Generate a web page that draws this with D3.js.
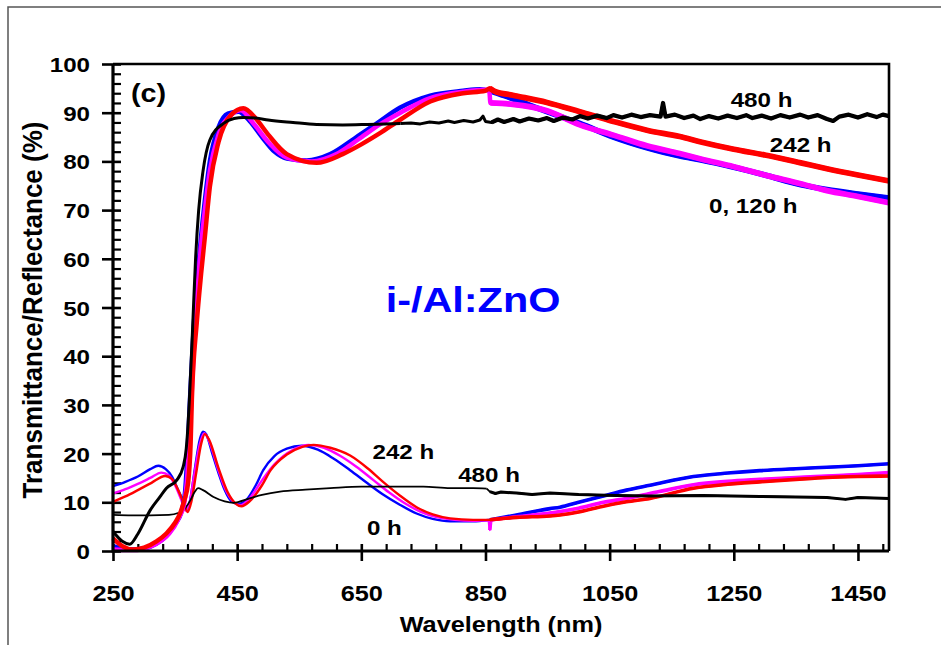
<!DOCTYPE html>
<html>
<head>
<meta charset="utf-8">
<script src="https://cdn.jsdelivr.net/npm/d3@7"></script>
<style>
  body { margin: 0; background: #fff; }
  svg text { font-family: "Liberation Sans", Arial, sans-serif; font-weight: bold; fill: #000; }
</style>
</head>
<body>
<div id="chart"></div>
<script>
// transmittance (upper, thick) and reflectance (lower, thin) spectra, [nm, %]
const tBlue = [[250,1.0],[265,0.5],[280,0.3],[300,0.5],[320,1.5],[335,3.0],[350,5.5],[360,8],[366,12],[370,20],[374,31],[380,46],[390,62],[398,72],[406,80],[420,87],[435,89.8],[452,90.2],[470,88.3],[490,85],[510,82],[530,80.6],[562,80.2],[600,81.5],[640,84.8],[675,87.8],[712,91.0],[761,93.5],[814,94.5],[841,94.8],[857,94.5],[880,93.5],[920,91.6],[960,89.7],[1002,87.8],[1056,85.0],[1110,82.8],[1163,81.1],[1197,80.3],[1250,78.8],[1300,77.2],[1358,75.2],[1400,74.2],[1450,73.3],[1500,72.5]];
const tMagenta = [[250,0.3],[265,0.2],[285,0.2],[305,0.7],[320,1.5],[340,3.5],[355,6.5],[365,10],[370,16],[375,28],[381,43],[390,60],[398,70],[406,78],[420,85.5],[440,89.5],[456,90.5],[475,88],[500,84],[530,80.8],[570,80.0],[610,81.5],[645,84.5],[680,87.6],[713,90.0],[761,93.0],[814,94.3],[850,94.7],[856,94.6],[858,92.0],[894,91.7],[949,90.4],[1002,87.5],[1056,85.4],[1110,83.2],[1163,81.6],[1197,80.5],[1250,78.9],[1300,77.2],[1358,75.4],[1400,74.0],[1450,72.8],[1500,71.5]];
const tRed = [[250,2.6],[265,1.0],[283,0.3],[300,0.7],[320,2.0],[336,3.6],[350,5.8],[358,7.7],[365,10.5],[371,14],[375,22],[377,31],[385,47],[392,57],[398,64.5],[406,74.8],[420,84],[440,89.5],[460,90.9],[480,88.8],[500,85.5],[530,81.5],[578,79.7],[620,81.5],[650,83.5],[680,85.8],[712,88.5],[761,92.3],[814,94.0],[850,94.5],[857,95.0],[865,94.4],[894,93.6],[949,92.1],[1002,90.2],[1056,88.2],[1110,86.4],[1163,85.1],[1197,84.0],[1250,82.5],[1300,81.3],[1358,79.7],[1400,78.5],[1450,77.2],[1500,76.0]];
const tBlack = [[250,4.0],[265,2.0],[277,1.4],[290,3.5],[310,8.4],[325,11],[336,12.9],[353,14.6],[363,17.3],[368,21],[370,24.2],[373,31],[378,45],[383,60],[388,70],[395,78],[406,84.4],[428,87.8],[445,88.8],[460,89.0],[480,88.9],[500,88.5],[540,88.0],[578,87.6],[620,87.5],[660,87.6],[713,87.8],[730,87.9],[745,87.7],[760,88.1],[775,87.9],[790,88.3],[800,88.0],[815,88.4],[830,88.1],[841,88.5],[846,89.3],[850,88.2],[860,88.0],[870,88.6],[880,88.1],[895,88.7],[905,88.2],[920,88.8],[935,88.4],[949,88.9],[960,88.3],[975,89.0],[990,88.6],[1002,89.3],[1015,88.8],[1030,89.4],[1045,88.9],[1056,89.5],[1070,89.0],[1085,89.6],[1100,89.1],[1115,89.5],[1132,89.2],[1136,92.0],[1140,89.2],[1155,89.6],[1170,88.9],[1185,89.4],[1196,88.7],[1210,89.3],[1225,88.8],[1240,89.4],[1255,88.9],[1270,89.5],[1280,88.9],[1295,89.4],[1310,88.8],[1325,89.5],[1340,89.0],[1357,89.6],[1370,89.0],[1385,89.5],[1400,88.7],[1410,88.3],[1420,89.2],[1435,89.6],[1450,89.0],[1465,89.7],[1480,89.1],[1490,89.6],[1500,89.3]];

const rBlue = [[250,13.3],[270,14.2],[290,15.3],[310,16.8],[323,17.5],[335,16.8],[345,15.3],[355,12.5],[362,10.5],[367,8.8],[370,8.4],[375,11],[382,17],[390,23],[395,24.5],[400,24],[410,20],[420,16],[430,12.5],[440,10.3],[452,9.65],[465,10.5],[480,13.5],[492,16.6],[510,19.5],[530,21],[554,21.6],[580,20.8],[605,19.0],[632,16.6],[660,13.9],[685,11.6],[712,9.5],[739,7.7],[765,6.6],[793,6.1],[830,6.1],[857,6.4],[900,7.4],[954,8.7],[970,9.0],[1000,10.0],[1040,11.3],[1077,12.5],[1115,13.5],[1185,15.3],[1240,16.0],[1292,16.5],[1350,16.9],[1400,17.2],[1450,17.5],[1500,17.9]];
const rMagenta = [[250,11.8],[270,12.7],[290,13.8],[310,15.0],[328,16.1],[340,15.5],[350,13.5],[360,10.5],[367,8.3],[372,9],[380,15],[390,22],[397,24.2],[405,22.5],[420,16.5],[430,13],[445,10],[455,9.4],[470,10.8],[490,14.5],[510,17.8],[540,20.8],[565,21.8],[590,21.2],[615,19.6],[642,17.3],[670,14.5],[695,12.0],[720,9.8],[745,8.1],[770,7.0],[800,6.4],[830,6.2],[855,6.3],[857,4.3],[859,6.3],[900,7.0],[954,7.8],[970,8.1],[1000,8.8],[1040,10.0],[1077,10.8],[1130,12.2],[1185,13.6],[1240,14.3],[1292,14.7],[1350,15.1],[1400,15.4],[1450,15.7],[1500,16.1]];
const rRed = [[250,10.1],[270,11.2],[290,12.5],[312,14.0],[334,15.4],[345,14.8],[355,12.5],[365,9.5],[370,8.0],[376,10],[384,16],[392,22],[398,24.0],[405,22.8],[420,17],[435,12],[447,9.8],[457,9.2],[470,10.2],[490,13.5],[504,16.6],[530,19.8],[555,21.4],[573,21.8],[600,21.2],[632,19.6],[660,17.0],[685,14.2],[712,11.4],[739,9.0],[765,7.5],[793,6.7],[830,6.4],[857,6.4],[900,6.9],[954,7.2],[970,7.4],[1000,8.0],[1040,9.2],[1077,10.1],[1115,10.8],[1185,12.9],[1240,13.7],[1292,14.2],[1350,14.7],[1400,15.1],[1450,15.3],[1500,15.4]];
const rBlack = [[250,7.4],[280,7.3],[310,7.3],[340,7.4],[355,7.8],[365,8.6],[375,10.5],[382,12.2],[387,12.9],[395,12.5],[412,11.1],[430,10.2],[444,9.9],[470,10.8],[490,11.5],[519,12.2],[560,12.6],[600,12.9],[650,13.2],[700,13.2],[750,13.2],[793,12.9],[830,12.9],[852,12.8],[857,12.2],[866,11.8],[875,12.1],[900,11.9],[925,11.6],[954,11.9],[1000,11.6],[1060,11.4],[1115,11.3],[1200,11.4],[1292,11.2],[1350,11.1],[1400,11.0],[1430,10.6],[1450,11.0],[1500,10.8]];

const xTicks = [250, 450, 650, 850, 1050, 1250, 1450];
const yTicks = [0, 10, 20, 30, 40, 50, 60, 70, 80, 90, 100];

// curve labels, anchored at their left baseline in data units
const notes = [
  { text: "480 h", nm: 1245, v: 91.2 },
  { text: "242 h", nm: 1308, v: 81.9 },
  { text: "0, 120 h", nm: 1210, v: 69.4 },
  { text: "242 h", nm: 668, v: 18.8 },
  { text: "480 h", nm: 806, v: 14.2 },
  { text: "0 h", nm: 659, v: 3.3 }
];

const W = 941, H = 645;
const SX = 1.15; // glyphs in the source are a bit wide

const svg = d3.select("#chart").append("svg").attr("width", W).attr("height", H);
svg.append("rect").attr("width", W).attr("height", H).attr("fill", "#fff");

// outer figure frame (runs off the right and bottom)
svg.append("rect")
  .attr("x", 8).attr("y", 7).attr("width", 1200).attr("height", 1200)
  .attr("fill", "none").attr("stroke", "#555").attr("stroke-width", 1.5);

const x = d3.scaleLinear().domain([250, 1500]).range([113, 889]);
const y = d3.scaleLinear().domain([0, 100]).range([551, 64]);

function label(g, px, py, str, size, anchor, color) {
  return g.append("text")
    .attr("transform", `translate(${px},${py}) scale(${SX},1)`)
    .attr("text-anchor", anchor || "start")
    .style("font-size", size + "px")
    .style("fill", color || "#000")
    .text(str);
}

// minor ticks (inside)
const xMinor = d3.range(290, 1500, 40).filter(v => (v - 250) % 200 !== 0);
const yMinor = d3.range(2, 100, 2).filter(v => v % 10 !== 0);
svg.append("g").attr("transform", `translate(0,${y(0)})`)
  .call(d3.axisBottom(x).tickValues(xMinor).tickSize(-7).tickFormat(""))
  .call(g => g.select(".domain").remove())
  .selectAll("line").attr("stroke-width", 2.2);
svg.append("g").attr("transform", `translate(${x(250)},0)`)
  .call(d3.axisLeft(y).tickValues(yMinor).tickSize(-8).tickFormat(""))
  .call(g => g.select(".domain").remove())
  .selectAll("line").attr("stroke-width", 2.2);

// major ticks (crossing)
const xAxis = svg.append("g").attr("transform", `translate(0,${y(0)})`)
  .call(d3.axisBottom(x).tickValues(xTicks).tickSize(10).tickFormat(d3.format("d")));
xAxis.select(".domain").remove();
xAxis.selectAll(".tick line").attr("y1", -7).attr("stroke-width", 2.6);
xAxis.selectAll(".tick text")
  .attr("y", 0).attr("dy", 0)
  .attr("transform", `translate(0,50) scale(${SX},1)`)
  .style("font-size", "22px");

const yAxis = svg.append("g").attr("transform", `translate(${x(250)},0)`)
  .call(d3.axisLeft(y).tickValues(yTicks).tickSize(11));
yAxis.select(".domain").remove();
yAxis.selectAll(".tick line").attr("x1", 8).attr("stroke-width", 2.6);
yAxis.selectAll(".tick text")
  .attr("x", -23 / SX).attr("dy", "0.36em")
  .attr("transform", `scale(${SX},1)`)
  .style("font-size", "21px");
svg.selectAll(".tick text").style("font-family", '"Liberation Sans", Arial, sans-serif').style("font-weight", "bold");

// curves: smooth where the spectra are clean, straight segments where they are noisy
const smooth = d3.line().x(d => x(d[0])).y(d => y(d[1])).curve(d3.curveMonotoneX);
const jagged = d3.line().x(d => x(d[0])).y(d => y(d[1]));
const plot = svg.append("g");
const series = [
  { data: rBlue, color: "#0000ff", w: 2.4 },
  { data: rMagenta, color: "#ff00ff", w: 2.4 },
  { data: rRed, color: "#ff0000", w: 2.4 },
  { data: rBlack, color: "#000", w: 1.8, noisyFrom: 852 },
  { data: tBlue, color: "#0000ff", w: 4.5 },
  { data: tMagenta, color: "#ff00ff", w: 4.5 },
  { data: tRed, color: "#ff0000", w: 4.5 },
  { data: tBlack, color: "#000", w: 3, noisyFrom: 713 }
];
series.forEach(s => {
  const cut = s.noisyFrom || 1e9;
  plot.append("path").datum(s.data.filter(d => d[0] <= cut))
    .attr("fill", "none").attr("stroke", s.color)
    .attr("stroke-width", s.w).attr("stroke-linejoin", "round")
    .attr("d", smooth);
  if (s.noisyFrom) {
    plot.append("path").datum(s.data.filter(d => d[0] >= cut))
      .attr("fill", "none").attr("stroke", s.color)
      .attr("stroke-width", s.w).attr("stroke-linejoin", "round")
      .attr("d", jagged);
  }
  // noisier detector range past 850 nm reads as a wider band
  plot.append("path").datum(s.data.filter(d => d[0] >= 857))
    .attr("fill", "none").attr("stroke", s.color)
    .attr("stroke-width", s.w + 1.2).attr("stroke-linejoin", "round")
    .attr("d", s.noisyFrom ? jagged : smooth);
});

// plot frame
svg.append("path")
  .attr("d", `M${x(250)},${y(100)}H${x(1500)}V${y(0)}`)
  .attr("fill", "none").attr("stroke", "#000").attr("stroke-width", 2.6);
svg.append("path")
  .attr("d", `M${x(250)},${y(100)}V${y(0)}H${x(1500)}`)
  .attr("fill", "none").attr("stroke", "#000").attr("stroke-width", 3.2);

// labels
notes.forEach(n => label(svg, x(n.nm), y(n.v), n.text, 21, "start"));
label(svg, 131, 102, "(c)", 25, "start");
label(svg, 473, 312, "i-/Al:ZnO", 36, "middle", "#0000ff");

label(svg, 501, 632, "Wavelength (nm)", 22, "middle");
svg.append("text")
  .attr("transform", `translate(42,310) scale(1.05,1) rotate(-90)`)
  .attr("text-anchor", "middle")
  .style("font-size", "26px")
  .text("Transmittance/Reflectance (%)");
</script>
</body>
</html>
